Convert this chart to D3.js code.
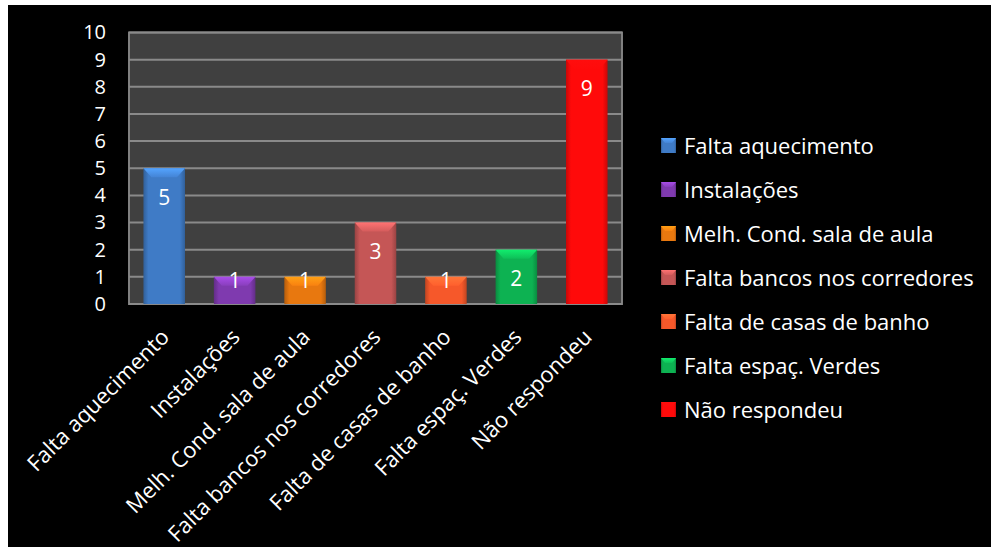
<!DOCTYPE html>
<html>
<head>
<meta charset="utf-8">
<script src="https://cdn.jsdelivr.net/npm/d3@7"></script>
<style>
  body { margin: 0; background: #fff; }
  text { font-family: "Open Sans", "Noto Sans", sans-serif; fill: #fff; }
</style>
</head>
<body>
<div id="chart"></div>
<script>
// chart data
var categories = ["Falta aquecimento", "Instalações", "Melh. Cond. sala de aula",
  "Falta bancos nos corredores", "Falta de casas de banho", "Falta espaç. Verdes", "Não respondeu"];
var values = [5, 1, 1, 3, 1, 2, 9];
var colors = ["#3f7bc6", "#7f3aaf", "#e8780f", "#c55656", "#f6582a", "#0db252", "#ff0a0a"];
var yTicks = [0, 1, 2, 3, 4, 5, 6, 7, 8, 9, 10];

var svgWidth = 991;
var svgHeight = 547;

var margin = { top: 32.5, left: 129, right: 369, bottom: 243 };
var width = svgWidth - margin.left - margin.right;
var height = svgHeight - margin.top - margin.bottom;

var svg = d3.select("#chart")
  .append("svg")
  .attr("width", svgWidth)
  .attr("height", svgHeight);

// black background with a thin white edge on top/left
svg.append("rect")
  .attr("x", 8).attr("y", 5)
  .attr("width", svgWidth - 8).attr("height", svgHeight - 5)
  .attr("fill", "#000");

var defs = svg.append("defs");
colors.forEach(function(c, i) {
  var g = defs.append("linearGradient").attr("id", "bar" + i)
    .attr("x1", 0).attr("x2", 1).attr("y1", 0).attr("y2", 0);
  g.append("stop").attr("offset", "0%").attr("stop-color", d3.color(c).darker(0.7));
  g.append("stop").attr("offset", "12%").attr("stop-color", c);
  g.append("stop").attr("offset", "88%").attr("stop-color", c);
  g.append("stop").attr("offset", "100%").attr("stop-color", d3.color(c).darker(0.7));
  var t = defs.append("linearGradient").attr("id", "top" + i)
    .attr("x1", 0).attr("x2", 0).attr("y1", 0).attr("y2", 1);
  t.append("stop").attr("offset", "0%").attr("stop-color", d3.color(c).brighter(0.8));
  t.append("stop").attr("offset", "100%").attr("stop-color", d3.color(c).brighter(0.2));
});

var chartGroup = svg.append("g")
  .attr("transform", `translate(${margin.left}, ${margin.top})`);

var xScale = d3.scaleBand()
  .domain(categories)
  .range([0, width])
  .paddingInner(0.41)
  .paddingOuter(0.205);

var yScale = d3.scaleLinear()
  .domain([0, 10])
  .range([height, 0]);

// plot area
chartGroup.append("rect")
  .attr("width", width)
  .attr("height", height)
  .attr("fill", "#404040")
  .attr("stroke", "#808080")
  .attr("stroke-width", 2);

// gridlines
chartGroup.selectAll(".grid").data(yTicks)
  .enter()
  .append("line")
  .attr("x1", 0).attr("x2", width)
  .attr("y1", d => yScale(d)).attr("y2", d => yScale(d))
  .attr("stroke", "#8a8a8a")
  .attr("stroke-width", 2);

// y axis
var yAxis = d3.axisLeft(yScale).tickValues(yTicks).tickSize(0).tickPadding(23);
var yG = chartGroup.append("g").call(yAxis);
yG.select(".domain").remove();
yG.selectAll("text").style("font-size", "20px").style("font-family", "'Open Sans', sans-serif").attr("fill", "#fff");

// bars
var bars = chartGroup.selectAll(".bar").data(values)
  .enter()
  .append("g");

bars.append("rect")
  .attr("x", (d, i) => xScale(categories[i]))
  .attr("y", d => yScale(d))
  .attr("width", xScale.bandwidth())
  .attr("height", d => height - yScale(d))
  .attr("fill", (d, i) => `url(#bar${i})`);

// top bevel
bars.append("path")
  .attr("d", function(d, i) {
    var x0 = xScale(categories[i]), x1 = x0 + xScale.bandwidth(), y0 = yScale(d);
    return `M${x0},${y0}L${x1},${y0}L${x1 - 8},${y0 + 9}L${x0 + 8},${y0 + 9}Z`;
  })
  .attr("fill", (d, i) => `url(#top${i})`);

// value labels
bars.append("text")
  .attr("x", (d, i) => xScale(categories[i]) + xScale.bandwidth() / 2)
  .attr("y", d => Math.min(yScale(d) + 29, height - 23))
  .attr("dy", "0.35em")
  .attr("text-anchor", "middle")
  .style("font-size", "21px")
  .text(d => d);

// x labels, rotated
chartGroup.selectAll(".xlab").data(categories)
  .enter()
  .append("text")
  .attr("transform", d => `translate(${xScale(d) + xScale.bandwidth() / 2 + 1}, ${height + 29}) rotate(-45)`)
  .attr("text-anchor", "end")
  .attr("dy", "0.35em")
  .style("font-size", "22px")
  .text(d => d);

// legend
var legend = svg.append("g").attr("transform", "translate(661, 146)");
var items = legend.selectAll("g").data(categories)
  .enter()
  .append("g")
  .attr("transform", (d, i) => `translate(0, ${i * 44})`);

items.append("rect")
  .attr("x", 0).attr("y", -8)
  .attr("width", 15).attr("height", 15)
  .attr("fill", (d, i) => `url(#bar${i})`);

items.append("path")
  .attr("d", "M0,-8L15,-8L11,-3L4,-3Z")
  .attr("fill", (d, i) => `url(#top${i})`);

items.append("text")
  .attr("x", 23)
  .attr("dy", "0.35em")
  .style("font-size", "22px")
  .text(d => d);
</script>
</body>
</html>
